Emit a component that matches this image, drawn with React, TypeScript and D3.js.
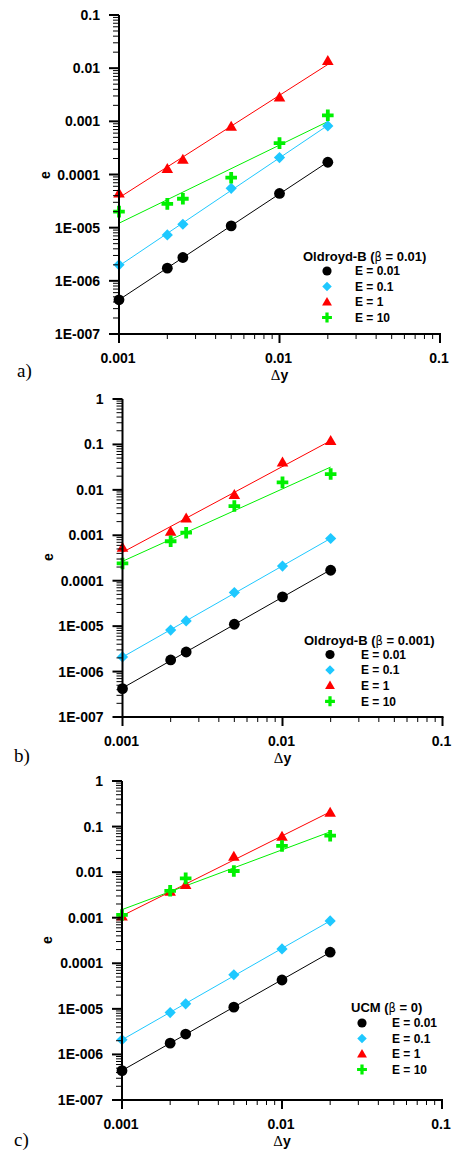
import React from "react";
import * as d3 from "d3";

const xValues = [0.001, 0.002, 0.0025, 0.005, 0.01, 0.02];
const seriesLabels = ["E = 0.01", "E = 0.1", "E = 1", "E = 10"];
const seriesColors = ["#000000", "#1ec8ff", "#ff0000", "#00f000"];
const seriesShapes = ["circle", "diamond", "triangle", "cross"];

// Panel a: Oldroyd-B (beta = 0.01)
const aE001 = [4.4e-7, 1.73e-6, 2.75e-6, 1.08e-5, 4.4e-5, 1.7e-4];
const aE01 = [2.0e-6, 7.3e-6, 1.16e-5, 5.5e-5, 2.08e-4, 8.2e-4];
const aE1 = [4.4e-5, 1.27e-4, 1.9e-4, 7.9e-4, 2.8e-3, 1.36e-2];
const aE10 = [2.0e-5, 2.8e-5, 3.5e-5, 8.7e-5, 3.9e-4, 1.3e-3];

// Panel b: Oldroyd-B (beta = 0.001)
const bE001 = [4.2e-7, 1.8e-6, 2.7e-6, 1.1e-5, 4.4e-5, 1.7e-4];
const bE01 = [2.1e-6, 8.2e-6, 1.3e-5, 5.5e-5, 2.1e-4, 8.5e-4];
const bE1 = [5.3e-4, 1.2e-3, 2.35e-3, 7.7e-3, 0.04, 0.119];
const bE10 = [2.4e-4, 7.4e-4, 1.14e-3, 4.4e-3, 0.0146, 0.0223];

// Panel c: UCM (beta = 0)
const cE001 = [4.4e-7, 1.77e-6, 2.8e-6, 1.09e-5, 4.3e-5, 1.75e-4];
const cE01 = [2.1e-6, 8.3e-6, 1.29e-5, 5.6e-5, 2.07e-4, 8.5e-4];
const cE1 = [1.06e-3, 3.7e-3, 5.2e-3, 0.0219, 0.06, 0.2];
const cE10 = [1.15e-3, 3.9e-3, 7.3e-3, 0.0106, 0.0376, 0.063];

const xTickLabels = ["0.001", "0.01", "0.1"];
const yTickLabelsA = ["0.1", "0.01", "0.001", "0.0001", "1E-005", "1E-006", "1E-007"];
const yTickLabelsBC = ["1", "0.1", "0.01", "0.001", "0.0001", "1E-005", "1E-006", "1E-007"];

const FONT = "'Liberation Sans', Arial, sans-serif";
const SERIF = "'Liberation Serif', 'Times New Roman', serif";

type PanelCfg = {
  letter: string;
  titleParts: [string, string, string];
  series: number[][];
  yTop: number;
  yLabels: string[];
  left: number;
  right: number;
  top: number;
  bottom: number;
  legendX: number;
  legendTextX: number;
  legendTitleX: number;
  legendTitleY: number;
  legendY0: number;
  legendDy: number;
  eX: number;
  eY: number;
  letterX: number;
  letterY: number;
};

const panels: PanelCfg[] = [
  {
    letter: "a)", titleParts: ["Oldroyd-B (", "β", " = 0.01)"],
    series: [aE001, aE01, aE1, aE10], yTop: 0.1, yLabels: yTickLabelsA,
    left: 119, right: 440, top: 15, bottom: 334,
    legendX: 327, legendTextX: 355, legendTitleX: 303, legendTitleY: 261, legendY0: 271, legendDy: 15.5,
    eX: 45, eY: 175, letterX: 17, letterY: 377,
  },
  {
    letter: "b)", titleParts: ["Oldroyd-B (", "β", " = 0.001)"],
    series: [bE001, bE01, bE1, bE10], yTop: 1, yLabels: yTickLabelsBC,
    left: 122.5, right: 442.5, top: 399, bottom: 717,
    legendX: 330, legendTextX: 361, legendTitleX: 304, legendTitleY: 644.5, legendY0: 654.5, legendDy: 15.6,
    eX: 48, eY: 557, letterX: 14, letterY: 762,
  },
  {
    letter: "c)", titleParts: ["UCM (", "β", " = 0)"],
    series: [cE001, cE01, cE1, cE10], yTop: 1, yLabels: yTickLabelsBC,
    left: 122, right: 442, top: 781, bottom: 1100,
    legendX: 362, legendTextX: 392, legendTitleX: 351, legendTitleY: 1012, legendY0: 1023, legendDy: 15.5,
    eX: 47, eY: 940, letterX: 14, letterY: 1146,
  },
];

function Marker({ shape, color, x, y, k = 1 }: { shape: string; color: string; x: number; y: number; k?: number }) {
  if (shape === "circle") return <circle cx={x} cy={y} r={5.4 * k} fill={color} />;
  if (shape === "diamond") {
    const s = 5.6 * k;
    return <path d={`M${x},${y - s}L${x + s},${y}L${x},${y + s}L${x - s},${y}Z`} fill={color} />;
  }
  if (shape === "triangle") {
    const w = 5.8 * k, h = 10 * k;
    return <path d={`M${x},${y - h * 0.6}L${x + w},${y + h * 0.4}L${x - w},${y + h * 0.4}Z`} fill={color} />;
  }
  const a = 5.8 * k, t = 1.9 * k;
  return (
    <path
      d={`M${x - t},${y - a}H${x + t}V${y - t}H${x + a}V${y + t}H${x + t}V${y + a}H${x - t}V${y + t}H${x - a}V${y - t}H${x - t}Z`}
      fill={color}
    />
  );
}

function fitLine(xs: number[], ys: number[]) {
  const lx = xs.map(Math.log10);
  const ly = ys.map(Math.log10);
  const mx = d3.mean(lx) as number;
  const my = d3.mean(ly) as number;
  let sxy = 0, sxx = 0;
  for (let i = 0; i < lx.length; i++) {
    sxy += (lx[i] - mx) * (ly[i] - my);
    sxx += (lx[i] - mx) * (lx[i] - mx);
  }
  const slope = sxy / sxx;
  return (x: number) => Math.pow(10, my + slope * (Math.log10(x) - mx));
}

function Panel({ p }: { p: PanelCfg }) {
  const x = d3.scaleLog().domain([0.001, 0.1]).range([p.left, p.right]);
  const y = d3.scaleLog().domain([1e-7, p.yTop]).range([p.bottom, p.top]);
  const nDec = Math.round(Math.log10(p.yTop / 1e-7));
  const yMajors = d3.range(nDec + 1).map((i) => p.yTop / Math.pow(10, i));
  const yMinors: number[] = [];
  yMajors.slice(1).forEach((m) => {
    for (let k = 2; k <= 9; k++) yMinors.push(m * k);
  });
  const xMajors = [0.001, 0.01, 0.1];
  const xMinors: number[] = [];
  [0.001, 0.01].forEach((m) => {
    for (let k = 2; k <= 9; k++) xMinors.push(m * k);
  });
  const xEnds = [xValues[0], xValues[xValues.length - 1]];

  return (
    <g>
      {p.series.map((s, i) => {
        const f = fitLine(xValues, s);
        const path = d3.line<number>().x((d) => x(d)).y((d) => y(f(d)))(xEnds) || "";
        return <path key={"l" + i} d={path} stroke={seriesColors[i]} strokeWidth={1} fill="none" />;
      })}
      {p.series.map((s, i) =>
        s.map((v, j) => (
          <Marker key={`m${i}-${j}`} shape={seriesShapes[i]} color={seriesColors[i]} x={x(xValues[j])} y={y(v)} />
        ))
      )}
      <line x1={p.left} x2={p.left} y1={p.top} y2={p.bottom} stroke="#000" strokeWidth={2} />
      <line x1={p.left - 1} x2={p.right + 1} y1={p.bottom} y2={p.bottom} stroke="#000" strokeWidth={2} />
      {yMajors.map((v, i) => (
        <g key={"ym" + i}>
          <line x1={p.left - 10} x2={p.left} y1={y(v)} y2={y(v)} stroke="#000" strokeWidth={2} />
          <text x={p.left - 19} y={y(v)} dy="0.36em" textAnchor="end" fontFamily={FONT} fontWeight="bold" fontSize={14}>
            {p.yLabels[i]}
          </text>
        </g>
      ))}
      {yMinors.map((v, i) => (
        <line key={"yn" + i} x1={p.left - 6} x2={p.left} y1={y(v)} y2={y(v)} stroke="#000" strokeWidth={1} />
      ))}
      {xMajors.map((v, i) => (
        <g key={"xm" + i}>
          <line x1={x(v)} x2={x(v)} y1={p.bottom} y2={p.bottom + 9} stroke="#000" strokeWidth={2} />
          <text x={x(v) - 1} y={p.bottom + 29} textAnchor="middle" fontFamily={FONT} fontWeight="bold" fontSize={14}>
            {xTickLabels[i]}
          </text>
        </g>
      ))}
      {xMinors.map((v, i) => (
        <line key={"xn" + i} x1={x(v)} x2={x(v)} y1={p.bottom} y2={p.bottom + 5} stroke="#000" strokeWidth={1} />
      ))}
      <text x={(x(0.001) + x(0.1)) / 2} y={p.bottom + 46} textAnchor="middle" fontFamily={FONT} fontWeight="bold" fontSize={14}>
        <tspan fontFamily={SERIF} fontWeight="normal" fontSize={15}>Δ</tspan>y
      </text>
      <text transform={`translate(${p.eX},${p.eY}) rotate(-90)`} textAnchor="middle" dy="0.35em" fontFamily={FONT} fontWeight="bold" fontSize={14}>
        e
      </text>
      <text x={p.letterX} y={p.letterY} fontFamily={SERIF} fontSize={19}>
        {p.letter}
      </text>
      <text x={p.legendTitleX} y={p.legendTitleY} fontFamily={FONT} fontWeight="bold" fontSize={13}>
        {p.titleParts[0]}
        <tspan fontWeight="normal" fontFamily="'DejaVu Sans', sans-serif" fontSize={11.5}>{p.titleParts[1]}</tspan>
        {p.titleParts[2]}
      </text>
      {seriesLabels.map((lab, i) => (
        <g key={"lg" + i}>
          <Marker shape={seriesShapes[i]} color={seriesColors[i]} x={p.legendX} y={p.legendY0 + i * p.legendDy} k={0.85} />
          <text x={p.legendTextX} y={p.legendY0 + i * p.legendDy} dy="0.36em" fontFamily={FONT} fontWeight="bold" fontSize={12}>
            {lab}
          </text>
        </g>
      ))}
    </g>
  );
}

export default function App() {
  return (
    <svg width={454} height={1153} style={{ position: "absolute", left: 0, top: 0, background: "#fff" }}>
      <rect width={454} height={1153} fill="#fff" />
      {panels.map((p) => (
        <Panel key={p.letter} p={p} />
      ))}
    </svg>
  );
}
